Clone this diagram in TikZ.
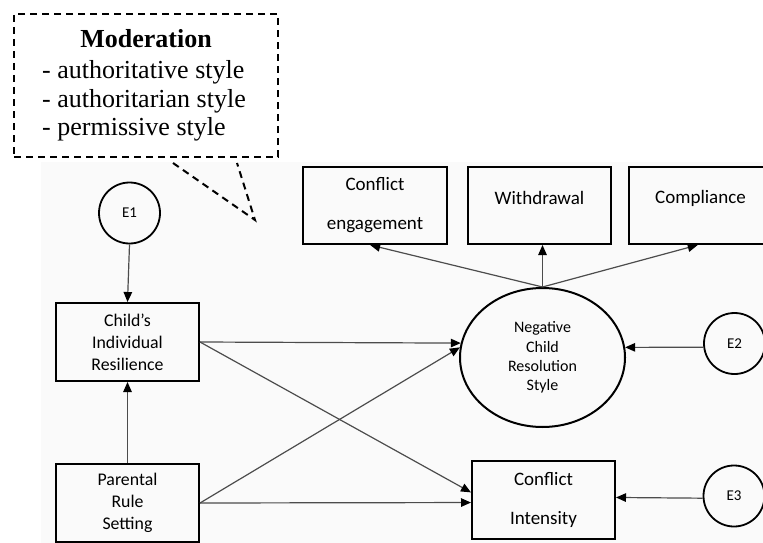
\documentclass[tikz,border=0pt]{standalone}
\usepackage{fontspec}
\setmainfont{Liberation Serif}
\newfontfamily\boxfont{Carlito}
\usetikzlibrary{arrows.meta,shapes.geometric}

\begin{document}
\begin{tikzpicture}[x=1pt,y=-1pt,
  framebox/.style={draw,line width=2pt,rectangle,inner sep=0pt,align=center,
    minimum width=143pt,minimum height=78pt},
  bigtext/.style={font=\boxfont\fontsize{19}{39}\selectfont},
  midtext/.style={font=\boxfont\fontsize{17.8}{22}\selectfont},
  errterm/.style={draw,line width=1.8pt,circle,inner sep=0pt,minimum size=61pt,
    font=\boxfont\fontsize{15}{17}\selectfont},
  latent/.style={draw,line width=2pt,ellipse,inner sep=0pt,align=center,
    minimum width=165pt,minimum height=139pt,
    font=\boxfont\fontsize{16}{19.3}\selectfont},
  path/.style={draw=black!70,line width=1.2pt,
    -{Triangle[length=10pt,width=8.5pt,color=black]}},
  callout/.style={draw,line width=2pt,dash pattern=on 7pt off 5pt},
  notetext/.style={font=\fontsize{26}{29}\selectfont,inner sep=0pt,anchor=base west}
]
\useasboundingbox (0,0) rectangle (763,543);
\fill[black!2] (41,162) rectangle (763,543);

% moderation callout
\node[callout,rectangle,minimum width=264pt,minimum height=143pt] (note) at (146,85.5) {};
\node[font=\bfseries\fontsize{26}{29}\selectfont,inner sep=0pt,anchor=base] (notetitle) at (146,48) {Moderation};
\node[notetext] (m1) at (42,78) {- authoritative style};
\node[notetext] (m2) at (42,107) {- authoritarian style};
\node[notetext] (m3) at (42,135) {- permissive style};
\coordinate (tailA) at (173,163);
\coordinate (tailB) at (237,163);
\coordinate (tip) at (255,220);
\draw[callout] (tailA) -- (tip) -- (tailB);

% predictors
\node[errterm] (e1) at (129.5,213) {E1};
\node[framebox,midtext] (child) at (127.5,342) {Child’s\\Individual\\Resilience};
\node[framebox,midtext] (parent) at (127.5,503) {Parental\\Rule\\Setting};

% outcomes
\node[latent] (nrs) at (542.5,357.5) {Negative\\Child\\Resolution\\Style};
\node[framebox,bigtext] (ci) at (543.5,500) {Conflict\\Intensity};
\node[errterm] (e2) at (734.5,343.5) {E2};
\node[errterm] (e3) at (734,496) {E3};

% indicators
\node[framebox,bigtext,minimum width=144pt,minimum height=77pt] (ce) at (375,205.5) {Conflict\\engagement};
\node[framebox,minimum height=77pt,
  label={[bigtext,yshift=7.5pt]center:Withdrawal}] (wd) at (539.5,205.5) {};
\node[framebox,minimum height=77pt,
  label={[bigtext,yshift=7.5pt]center:Compliance}] (cp) at (700.5,205.5) {};

% paths
\draw[path] (e1.south) -- (child.north);
\draw[path] (parent.north) -- (child.south);
\draw[path] (child.east) -- (nrs.170);
\draw[path] (child.east) -- (ci.174);
\draw[path] (parent.east) -- (nrs.173);
\draw[path] (parent.east) -- (ci.182);
\draw[path] (e2.187) -- (nrs.7);
\draw[path] (e3.184) -- (ci.2);
\draw[path] (nrs.north) -- (ce.263);
\draw[path] (nrs.north) -- (nrs.north |- wd.south);
\draw[path] (nrs.north) -- (cp.266);
\end{tikzpicture}
\end{document}
